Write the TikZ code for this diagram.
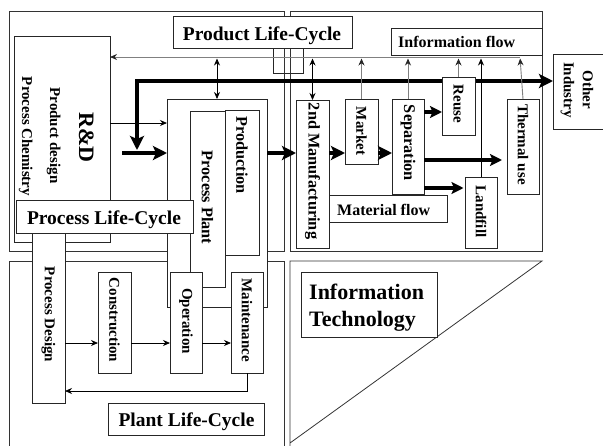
\documentclass[tikz,border=0pt]{standalone}
\usepackage{fontspec}
\setmainfont{Liberation Serif}
\usetikzlibrary{arrows.meta,fit}
\begin{document}
\begin{tikzpicture}[x=1pt,y=-1pt,
  frame/.style={draw=black!80, line width=0.8pt},
  box/.style={draw=black!85, line width=0.8pt, fill=white, inner sep=0pt, outer sep=0pt},
  lbl/.style={inner sep=0pt, font=\bfseries\fontsize{19.5}{22}\selectfont},
  small/.style={inner sep=0pt, font=\bfseries\fontsize{16}{19}\selectfont},
  vtext/.style={rotate=-90, inner sep=0pt, font=\bfseries\fontsize{15}{18}\selectfont},
  vbig/.style={rotate=-90, inner sep=0pt, font=\bfseries\fontsize{16.3}{19}\selectfont},
  fine/.style={line width=0.8pt, -{Stealth[length=7pt,width=6pt]}},
  both/.style={line width=0.8pt, {Stealth[length=7pt,width=6pt]}-{Stealth[length=7pt,width=6pt]}},
  info/.style={draw=black!50, line width=0.9pt, -{Stealth[length=7pt,width=6pt,color=black!85]}},
  heavy/.style={line width=4pt, -{Stealth[length=14pt,width=14pt,inset=3pt]}},
  medium/.style={line width=3.4pt, -{Stealth[length=12pt,width=12pt,inset=2.5pt]}},
]
\useasboundingbox (0,0) rectangle (603,445);

% quadrant frames
\draw[frame] (9,11) rectangle (284,251);
\draw[frame] (290,11) rectangle (542,251);
\draw[frame] (9,450) -- (9,261) -- (284,261) -- (284,450);
\draw[frame] (290,450) -- (290,261) -- (542,261) -- (290,443);

% R&D block
\node[box, fit={(14,36) (110,242)}] (rd) {};
\node[rotate=-90, inner sep=0pt, anchor=base, font=\bfseries\fontsize{22}{24}\selectfont] at (79,137.5) {R\&D};
\node[vtext, anchor=base] at (50,135.5) {Product design};
\node[vtext, anchor=base] at (22,136.5) {Process Chemistry};

% plant life-cycle boxes under the process label
\node[box, fit={(32,215) (65,403)}] (pd) {};
\node[vtext] at (48.5,314.5) {Process Design};

% process plant block
\node[box, fit={(167,99) (267,307)}] (pp) {};
\node[box, fit={(190,111) (225,287)}] (ppl) {};
\node[vbig] at (207.5,197.5) {Process Plant};
\node[box, fit={(225,110) (259,255)}] (prod) {};
\node[vbig] at (242,155) {Production};

\node[box, fit={(16,200) (193,233)}] (proc) {};
\node[lbl, anchor=base] at (104,224) {Process Life-Cycle};

% plant life-cycle
\node[box, fit={(98,272) (131,373)}] (con) {};
\node[vtext] at (114.5,320) {Construction};
\node[box, fit={(170,272) (202,373)}] (op) {};
\node[vtext] at (186,321) {Operation};
\node[box, fit={(231,272) (263,373)}] (mnt) {};
\node[vtext] at (247,320) {Maintenance};
\node[box, fit={(108,403) (264,435)}] (plant) {};
\node[lbl, anchor=base] at (186.5,426.5) {Plant Life-Cycle};

% product life-cycle
\node[box, fit={(173,16) (352,48)}] (plc) {};
\node[lbl, anchor=base] at (262,40.5) {Product Life-Cycle};
\node[draw=black!85, line width=0.8pt, inner sep=0pt, fit={(273,48) (303,73)}] (link) {};
\node[box, fit={(391,28) (542,55)}] (ifl) {};
\node[small, anchor=base west] at (398,47.5) {Information flow};

\node[box, fit={(296,100) (329,248)}] (mfg) {};
\node[vbig] at (312.5,171) {2nd Manufacturing};
\node[box, fit={(345,99) (378,164)}] (mkt) {};
\node[vtext] at (361.5,131) {Market};
\node[box, fit={(392,99) (424,194)}] (sep) {};
\node[vbig] at (408,143) {Separation};
\node[box, fit={(507,99) (539,194)}] (therm) {};
\node[vtext] at (523,144.5) {Thermal use};
\node[box, fit={(465,177) (497,248)}] (land) {};
\node[vtext] at (481,211.5) {Landfill};
\node[box, fit={(329,195) (447,222)}] (mat) {};
\node[small, anchor=base west] at (337,215) {Material flow};

\node[box, fit={(553,54) (612,129)}] (oth) {};
\node[rotate=-90, inner sep=0pt, align=center, font=\bfseries\fontsize{15}{19}\selectfont] at (577,90) {Other\\Industry};

% main material loop, passing behind the reuse box
\coordinate (drop) at (137,150);
\draw[line width=4pt, {Stealth[length=14pt,width=14pt,inset=3pt]}-{Stealth[length=14pt,width=14pt,inset=3pt]}]
  (drop) |- (oth.west |- 0,81);

\node[box, fit={(442,77) (475,135)}] (reuse) {};
\node[vtext] at (458.5,104) {Reuse};

% information technology
\node[box, fit={(301,272) (437,337)}] (it) {};
\node[inner sep=0pt, anchor=base west, font=\bfseries\fontsize{22}{26}\selectfont] at (309,299.3) {Information};
\node[inner sep=0pt, anchor=base west, font=\bfseries\fontsize{22}{26}\selectfont] at (309,326) {Technology};

% information flow
\coordinate (infoEnd) at (520,57);
\draw[info] (infoEnd) -- (rd.east |- infoEnd);
\draw[info, shorten >=1.5pt] (therm.north) -- (infoEnd);
\draw[info, shorten >=1.5pt] (mkt.north) -- (mkt.north |- infoEnd);
\draw[info, shorten >=1.5pt] (sep.north) -- (sep.north |- infoEnd);
\draw[info, shorten >=1.5pt] (reuse.north) -- (reuse.north |- infoEnd);
\draw[fine, shorten >=1.5pt] (land.north) -- (land.north |- infoEnd);
\draw[both, shorten <=1.5pt] (pp.north |- infoEnd) -- (pp.north);
\draw[both, shorten <=1.5pt] (mfg.north |- infoEnd) -- (mfg.north);
\draw[fine] (rd.east |- 0,123) -- (pp.west |- 0,123);

% material flow
\coordinate (feed) at (122,153);
\draw[heavy] (feed) -- (pp.west |- feed);
\draw[heavy] (pp.east |- 0,153) -- (mfg.west |- 0,153);
\draw[heavy] (mfg.east |- 0,153) -- (mkt.west |- 0,153);
\draw[heavy] (mkt.east |- 0,153) -- (sep.west |- 0,153);
\draw[medium] (sep.east |- 0,112) -- (reuse.west |- 0,112);
\draw[medium, shorten >=5pt] (sep.east |- 0,160) -- (therm.west |- 0,160);
\draw[medium, shorten >=1.5pt] (sep.east |- 0,188) -- (land.west |- 0,188);

% plant life-cycle flow
\draw[fine] (pd.east |- 0,343) -- (con.west |- 0,343);
\draw[fine] (con.east |- 0,343) -- (op.west |- 0,343);
\draw[fine] (op.east |- 0,343) -- (mnt.west |- 0,343);
\draw[fine] (mnt.south) |- (pd.east |- 0,391);
\end{tikzpicture}
\end{document}
